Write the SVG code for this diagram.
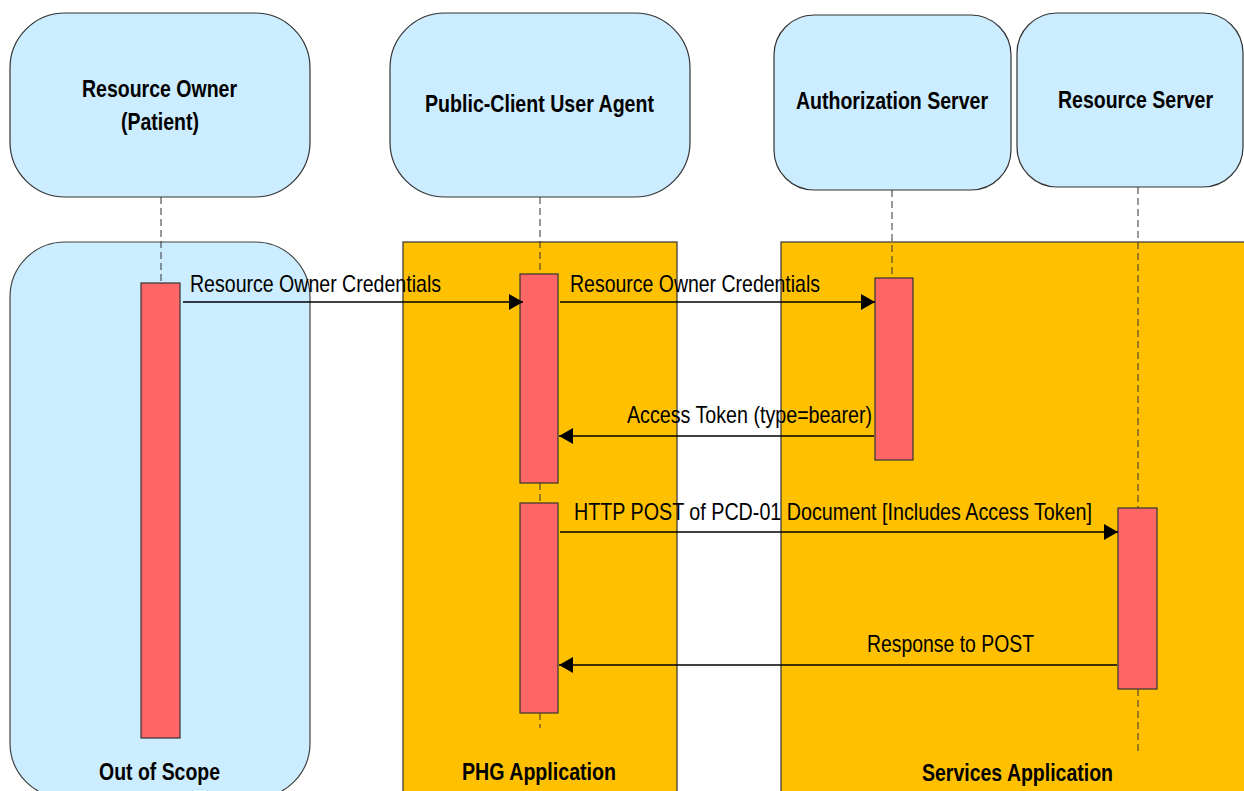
<svg xmlns="http://www.w3.org/2000/svg" width="1244" height="791" viewBox="0 0 1244 791">
<style>
.actor{fill:#CCECFF;stroke:#333;stroke-width:1.2}
.zoneB{fill:#CCECFF;stroke:#444;stroke-width:1.2}
.zoneO{fill:#FFC000;stroke:#333;stroke-width:1.2}
.bar{fill:#FF6666;stroke:#333;stroke-width:1.2}
.life{stroke:#333;stroke-width:1;stroke-dasharray:7,4;fill:none}
.msg{stroke:#000;stroke-width:1.3;fill:none}
.t{font-family:"Liberation Sans",Arial,sans-serif;font-size:24px;fill:#000}
.b{font-family:"Liberation Sans",Arial,sans-serif;font-size:24px;font-weight:bold;fill:#000}
</style>
<defs>
<marker id="ah" markerUnits="userSpaceOnUse" markerWidth="16" markerHeight="18" refX="14" refY="8" orient="auto">
<path d="M0,0 L14,8 L0,16 z" fill="#000"/>
</marker>
</defs>
<g id="zone-out-of-scope">
<rect class="zoneB" x="10" y="242" width="300" height="556" rx="55" ry="55"/>
<text class="b" x="99" y="780" textLength="121" lengthAdjust="spacingAndGlyphs">Out of Scope</text>
</g>
<g id="zone-phg">
<rect class="zoneO" x="403" y="242" width="274" height="560"/>
<text class="b" x="462" y="780" textLength="154" lengthAdjust="spacingAndGlyphs">PHG Application</text>
</g>
<g id="zone-services">
<rect class="zoneO" x="781" y="242" width="470" height="560"/>
<text class="b" x="922" y="781" textLength="191" lengthAdjust="spacingAndGlyphs">Services Application</text>
</g>
<g id="actor-resource-owner">
<rect class="actor" x="10" y="13" width="300" height="184" rx="55" ry="55"/>
<text class="b" x="82" y="97" textLength="155" lengthAdjust="spacingAndGlyphs">Resource Owner</text>
<text class="b" x="121" y="130" textLength="78" lengthAdjust="spacingAndGlyphs">(Patient)</text>
</g>
<g id="actor-user-agent">
<rect class="actor" x="390" y="13" width="300" height="184" rx="55" ry="55"/>
<text class="b" x="425" y="112" textLength="229" lengthAdjust="spacingAndGlyphs">Public-Client User Agent</text>
</g>
<g id="actor-auth-server">
<rect class="actor" x="774" y="15" width="237" height="175" rx="40" ry="40"/>
<text class="b" x="796" y="109" textLength="192" lengthAdjust="spacingAndGlyphs">Authorization Server</text>
</g>
<g id="actor-resource-server">
<rect class="actor" x="1017" y="13" width="226" height="174" rx="40" ry="40"/>
<text class="b" x="1058" y="108" textLength="155" lengthAdjust="spacingAndGlyphs">Resource Server</text>
</g>
<g id="lifelines">
<line class="life" x1="161" y1="197" x2="161" y2="283"/>
<line class="life" x1="540" y1="197" x2="540" y2="274"/>
<line class="life" x1="540" y1="483" x2="540" y2="503"/>
<line class="life" x1="540" y1="713" x2="540" y2="728"/>
<line class="life" x1="892" y1="190" x2="892" y2="278"/>
<line class="life" x1="1138" y1="187" x2="1138" y2="508"/>
<line class="life" x1="1138" y1="689" x2="1138" y2="752"/>
</g>
<g id="activations">
<rect class="bar" x="141" y="283" width="39" height="455"/>
<rect class="bar" x="520" y="274" width="38" height="209"/>
<rect class="bar" x="520" y="503" width="38" height="210"/>
<rect class="bar" x="875" y="278" width="38" height="182"/>
<rect class="bar" x="1118" y="508" width="39" height="181"/>
</g>
<g id="connectors">
<line class="msg" x1="183" y1="302" x2="523" y2="302" marker-end="url(#ah)"/>
<line class="msg" x1="560" y1="302" x2="875" y2="302" marker-end="url(#ah)"/>
<line class="msg" x1="874" y1="436" x2="559" y2="436" marker-end="url(#ah)"/>
<line class="msg" x1="560" y1="532" x2="1118" y2="532" marker-end="url(#ah)"/>
<line class="msg" x1="1117" y1="665" x2="559" y2="665" marker-end="url(#ah)"/>
<text class="t" x="190" y="292" textLength="251" lengthAdjust="spacingAndGlyphs">Resource Owner Credentials</text>
<text class="t" x="570" y="292" textLength="250" lengthAdjust="spacingAndGlyphs">Resource Owner Credentials</text>
<text class="t" x="627" y="423" textLength="245" lengthAdjust="spacingAndGlyphs">Access Token (type=bearer)</text>
<text class="t" x="574" y="520" textLength="518" lengthAdjust="spacingAndGlyphs">HTTP POST of PCD-01 Document [Includes Access Token]</text>
<text class="t" x="867" y="652" textLength="167" lengthAdjust="spacingAndGlyphs">Response to POST</text>
</g>
</svg>
